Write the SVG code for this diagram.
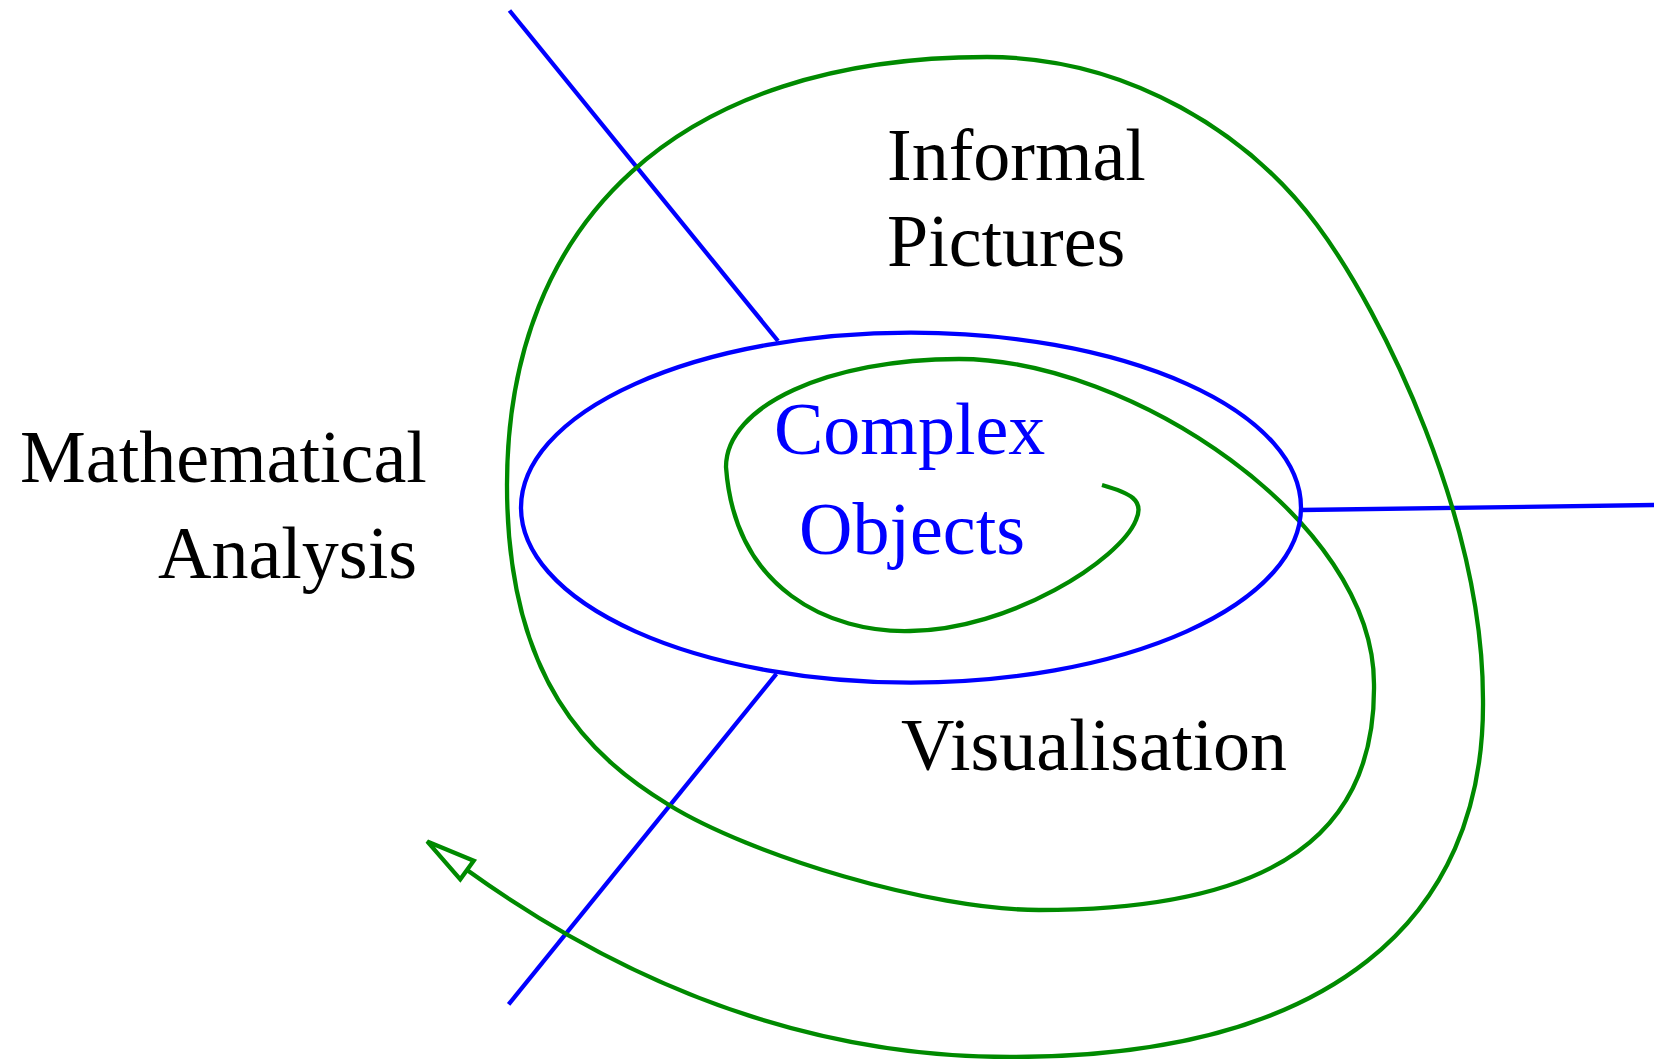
<svg xmlns="http://www.w3.org/2000/svg" width="1654" height="1059" viewBox="0 0 1654 1059">
<style>
.lbl{font-family:"Liberation Serif","Times New Roman",serif;font-size:74px;fill:#000}
.blue{fill:#0000ff}
.bl{stroke:#0000ff;stroke-width:4.3;fill:none}
.gr{stroke:#008a00;stroke-width:4.3;fill:none}
</style>
<defs>
<marker id="openArrow" markerUnits="userSpaceOnUse" markerWidth="60" markerHeight="30" refX="0" refY="0" viewBox="-5 -15 60 30" orient="auto" overflow="visible">
<path d="M0,-11.5 L49,0 L0,11.5 Z" fill="#fff" stroke="#008a00" stroke-width="4.3" stroke-linejoin="miter"/>
</marker>
</defs>
<rect width="1654" height="1059" fill="#fff"/>
<g id="connectors">
<line class="bl" x1="509.5" y1="10.5" x2="778" y2="341"/>
<line class="bl" x1="776.4" y1="673.9" x2="508.6" y2="1004.4"/>
<line class="bl" x1="1301" y1="510" x2="1654" y2="505"/>
<path id="spiral" class="gr" marker-end="url(#openArrow)" d="M1102,485 C1130,493 1145,500 1136,520 C1120,560 1010,630 910,631 C830,633 735,590 726,467 C726,405 830,359 959,359 C1130,359 1374,520 1374,684 C1376,830 1280,910 1039,910 C930,910 750,855 669,805 C590,757 507,680 507,485 C507,220 680,57 987,57 C1130,57 1250,135 1317,225 C1384,315 1483,520 1483,700 C1485,920 1330,1057 1010,1057 C800,1057 620,980 467,870"/>
</g>
<g id="complex-objects-region">
<ellipse class="bl" cx="911" cy="507.6" rx="390" ry="175"/>
</g>
<g id="label-complex-objects">
<text class="lbl blue" x="774" y="454">Complex</text>
<text class="lbl blue" x="799" y="554">Objects</text>
</g>
<g id="label-informal-pictures">
<text class="lbl" x="887" y="180">Informal</text>
<text class="lbl" x="887" y="266">Pictures</text>
</g>
<g id="label-mathematical-analysis">
<text class="lbl" x="20" y="482">Mathematical</text>
<text class="lbl" x="158" y="578">Analysis</text>
</g>
<g id="label-visualisation">
<text class="lbl" x="901" y="770">Visualisation</text>
</g>
</svg>
